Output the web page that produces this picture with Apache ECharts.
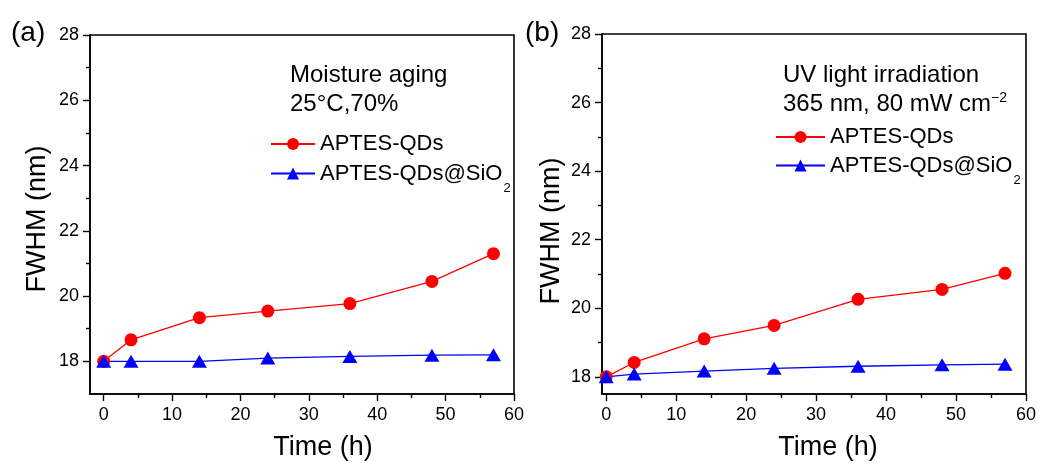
<!DOCTYPE html>
<html>
<head>
<meta charset="utf-8">
<script src="https://cdn.jsdelivr.net/npm/echarts@6/dist/echarts.min.js"></script>
<style>
  html, body { margin: 0; padding: 0; background: #fff; }
  #chart { width: 1039px; height: 463px; }
</style>
</head>
<body>
<div id="chart"></div>
<script>
// Sampling times (h)
const timeHours = [0, 4, 14, 24, 36, 48, 57];

// Panel (a): moisture aging, 25 °C / 70 % RH
const moistureAptes = [18.0, 18.66, 19.34, 19.54, 19.77, 20.45, 21.3];
const moistureSio2  = [18.0, 18.0, 18.0, 18.1, 18.15, 18.19, 18.2];

// Panel (b): UV irradiation, 365 nm, 80 mW cm^-2
const uvAptes = [18.0, 18.42, 19.11, 19.5, 20.26, 20.55, 21.02];
const uvSio2  = [18.0, 18.08, 18.17, 18.25, 18.31, 18.35, 18.37];

// Tick positions
const xMajorTicks = [0, 10, 20, 30, 40, 50, 60];
const xMinorTicks = [5, 15, 25, 35, 45, 55];
const yMajorTicks = [18, 20, 22, 24, 26, 28];
const yMinorTicks = [19, 21, 23, 25, 27];

const seriesNames = ['APTES-QDs', 'APTES-QDs@SiO2'];

const FONT = '"Liberation Sans", Arial, Helvetica, sans-serif';
const RED = '#ff0000';
const BLUE = '#0000ff';

function pairs(xs, ys) {
  return xs.map((x, i) => [x, ys[i]]);
}

function xAxes(gridIndex, min) {
  return [
    {
      type: 'value', gridIndex, min, max: 60,
      axisLine: { show: true, onZero: false, lineStyle: { color: '#000', width: 1.6 } },
      axisTick: { show: true, inside: false, length: 7, customValues: xMajorTicks, lineStyle: { color: '#000', width: 1.4 } },
      axisLabel: { customValues: xMajorTicks, margin: 12, color: '#000', fontSize: 18, fontFamily: FONT },
      splitLine: { show: false }
    },
    {
      type: 'value', gridIndex, min, max: 60, position: 'bottom',
      axisLine: { show: false, onZero: false },
      axisTick: { show: true, inside: false, length: 4, customValues: xMinorTicks, lineStyle: { color: '#000', width: 1.4 } },
      axisLabel: { show: false },
      splitLine: { show: false }
    }
  ];
}

function yAxes(gridIndex, min) {
  return [
    {
      type: 'value', gridIndex, min, max: 28,
      axisLine: { show: true, onZero: false, lineStyle: { color: '#000', width: 1.6 } },
      axisTick: { show: true, inside: false, length: 7, customValues: yMajorTicks, lineStyle: { color: '#000', width: 1.4 } },
      axisLabel: { customValues: yMajorTicks, margin: 11, color: '#000', fontSize: 18, fontFamily: FONT },
      splitLine: { show: false }
    },
    {
      type: 'value', gridIndex, min, max: 28, position: 'left',
      axisLine: { show: false, onZero: false },
      axisTick: { show: true, inside: false, length: 4, customValues: yMinorTicks, lineStyle: { color: '#000', width: 1.4 } },
      axisLabel: { show: false },
      splitLine: { show: false }
    }
  ];
}

function lineSeries(name, xIdx, yIdx, data, color, symbol, size) {
  return {
    name, type: 'line', xAxisIndex: xIdx, yAxisIndex: yIdx,
    data, symbol, symbolSize: size, showSymbol: true,
    lineStyle: { color, width: 1.3 },
    itemStyle: { color },
    emphasis: { disabled: true },
    animation: false, z: 3
  };
}

const legendRich = {
  n: { fontSize: 22, fontFamily: FONT, color: '#000', lineHeight: 23, verticalAlign: 'middle' },
  s: { fontSize: 13, fontFamily: FONT, color: '#000', lineHeight: 13, verticalAlign: 'top', padding: [20, 0, 0, 1] }
};

function legendRow(name, left, top, itemWidth) {
  return {
    show: true, left, top, orient: 'vertical', selectedMode: false,
    itemWidth, itemHeight: 15, padding: 0,
    data: [name],
    formatter: (n) => n === 'APTES-QDs@SiO2' ? '{n|APTES-QDs@SiO}{s|2}' : '{n|' + n + '}',
    textStyle: { fontSize: 22, fontFamily: FONT, color: '#000', rich: legendRich }
  };
}

function noteText(x, y, rich, text) {
  return {
    type: 'text', x, y, silent: true,
    style: {
      text, fill: '#000', font: '24px ' + FONT,
      align: 'left', verticalAlign: 'middle', rich
    }
  };
}

const supRich = {
  m: { fontSize: 24, fontFamily: FONT, color: '#000', lineHeight: 26, verticalAlign: 'middle' },
  p: { fontSize: 14, fontFamily: FONT, color: '#000', lineHeight: 16, verticalAlign: 'top' }
};

const option = {
  backgroundColor: '#fff',
  animation: false,
  grid: [
    { left: 90, top: 35, right: 525, bottom: 69, show: true, borderColor: '#000', borderWidth: 1.6, backgroundColor: 'transparent' },
    { left: 602, top: 34, right: 12, bottom: 69, show: true, borderColor: '#000', borderWidth: 1.6, backgroundColor: 'transparent' }
  ],
  xAxis: [...xAxes(0, -2), ...xAxes(1, -0.6)],
  yAxis: [...yAxes(0, 17), ...yAxes(1, 17.5)],
  legend: [
    legendRow(seriesNames[0], 270, 133, 44),
    legendRow(seriesNames[1], 270, 162, 44),
    legendRow(seriesNames[0], 775, 126, 49),
    legendRow(seriesNames[1], 775, 154, 49)
  ],
  series: [
    lineSeries(seriesNames[0], 0, 0, pairs(timeHours, moistureAptes), RED, 'circle', 13),
    lineSeries(seriesNames[1], 0, 0, pairs(timeHours, moistureSio2), BLUE, 'triangle', [15, 13]),
    lineSeries(seriesNames[0], 2, 2, pairs(timeHours, uvAptes), RED, 'circle', 13),
    lineSeries(seriesNames[1], 2, 2, pairs(timeHours, uvSio2), BLUE, 'triangle', [15, 13])
  ],
  graphic: [
    // panel labels
    { type: 'text', x: 11, y: 33, silent: true, style: { text: '(a)', fill: '#000', font: '28px ' + FONT, align: 'left', verticalAlign: 'middle' } },
    { type: 'text', x: 525, y: 33, silent: true, style: { text: '(b)', fill: '#000', font: '28px ' + FONT, align: 'left', verticalAlign: 'middle' } },
    // condition notes
    noteText(290, 75, null, 'Moisture aging'),
    noteText(290, 104, null, '25°C,70%'),
    noteText(783, 75, null, 'UV light irradiation'),
    noteText(783, 104, supRich, '{m|365 nm, 80 mW cm}{p|−2}'),
    // axis titles
    { type: 'text', x: 323, y: 448, silent: true, style: { text: 'Time (h)', fill: '#000', font: '27px ' + FONT, align: 'center', verticalAlign: 'middle' } },
    { type: 'text', x: 828, y: 448, silent: true, style: { text: 'Time (h)', fill: '#000', font: '27px ' + FONT, align: 'center', verticalAlign: 'middle' } },
    { type: 'text', x: 38, y: 219, rotation: Math.PI / 2, silent: true, style: { text: 'FWHM (nm)', fill: '#000', font: '27px ' + FONT, align: 'center', verticalAlign: 'middle' } },
    { type: 'text', x: 552, y: 231, rotation: Math.PI / 2, silent: true, style: { text: 'FWHM (nm)', fill: '#000', font: '27px ' + FONT, align: 'center', verticalAlign: 'middle' } }
  ]
};

const chart = echarts.init(document.getElementById('chart'), null, { renderer: 'canvas' });
chart.setOption(option);
</script>
</body>
</html>
